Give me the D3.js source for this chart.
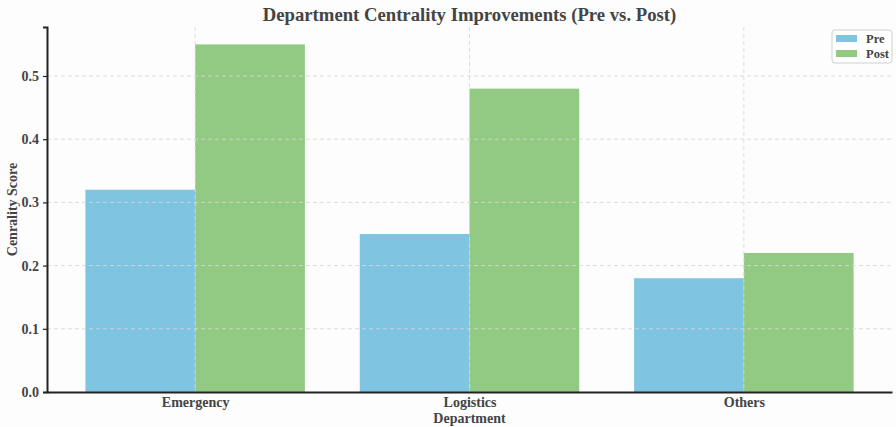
<!DOCTYPE html>
<html>
<head>
<meta charset="utf-8">
<script src="https://cdn.jsdelivr.net/npm/d3@7"></script>
<style>
  html, body { margin: 0; padding: 0; background: #fdfdfd; }
  svg { display: block; }
  text { font-family: "Liberation Serif", "Times New Roman", serif; font-weight: bold; fill: #444; }
</style>
</head>
<body>
<svg id="chart" width="896" height="427"></svg>
<script>
// Department centrality scores before and after the intervention
const departments = ["Emergency", "Logistics", "Others"];
const seriesNames = ["Pre", "Post"];
const preValues = [0.32, 0.25, 0.18];
const postValues = [0.55, 0.48, 0.22];
const yTicks = [0.0, 0.1, 0.2, 0.3, 0.4, 0.5];
const seriesColors = ["#7fc4e0", "#93ca83"];

const W = 896, H = 427;
const margin = { left: 47, right: 4, top: 27, bottom: 35 };
const svg = d3.select("#chart");

const plotW = W - margin.left - margin.right;
const plotH = H - margin.top - margin.bottom;

// Continuous x: categories at 0,1,2; bars span ±0.4 with 5% padding
const x = d3.scaleLinear().domain([-0.54, 2.54]).range([margin.left, margin.left + plotW]);
const y = d3.scaleLinear().domain([0, 0.5775]).range([margin.top + plotH, margin.top]);
const barW = 0.4;

const values = [preValues, postValues];

const g = svg.append("g");

// Bars
values.forEach((vals, si) => {
  g.selectAll(null)
    .data(vals)
    .enter().append("rect")
    .attr("x", (d, i) => x(i - barW + si * barW))
    .attr("width", x(barW) - x(0))
    .attr("y", d => y(d))
    .attr("height", d => y(0) - y(d))
    .attr("fill", seriesColors[si]);
});

// Grid lines (drawn above bars)
const grid = svg.append("g").attr("stroke", "#d8d8d8").attr("stroke-width", 1)
  .attr("stroke-dasharray", "4,3").attr("opacity", 0.85);
yTicks.slice(1).forEach(t => {
  grid.append("line").attr("x1", margin.left).attr("x2", margin.left + plotW)
    .attr("y1", y(t)).attr("y2", y(t));
});
departments.forEach((d, i) => {
  grid.append("line").attr("x1", x(i)).attr("x2", x(i))
    .attr("y1", margin.top).attr("y2", y(0));
});

// Y axis
const yAxis = d3.axisLeft(y).tickValues(yTicks).tickFormat(d3.format(".1f")).tickSize(4).tickPadding(4);
const yg = svg.append("g").attr("transform", `translate(${margin.left},0)`).call(yAxis);
yg.select(".domain").attr("stroke", "#222").attr("stroke-width", 2);
yg.selectAll(".tick line").attr("stroke", "#222").attr("stroke-width", 1.2);
yg.selectAll(".tick text").attr("font-size", 14).style("fill", "#444")
  .attr("font-family", "Liberation Serif, serif").attr("font-weight", "bold");

// X axis
const xAxis = d3.axisBottom(x).tickValues([0, 1, 2]).tickFormat(i => departments[i]).tickSize(0).tickPadding(5).tickSizeOuter(0);
const xg = svg.append("g").attr("transform", `translate(0,${y(0)})`).call(xAxis);
xg.select(".domain").attr("stroke", "#222").attr("stroke-width", 2);
xg.selectAll(".tick text").attr("font-size", 14).style("fill", "#444")
  .attr("font-family", "Liberation Serif, serif").attr("font-weight", "bold");

// Axis titles
svg.append("text").attr("x", x(1)).attr("y", 423).attr("text-anchor", "middle")
  .attr("font-size", 14).text("Department");
svg.append("text")
  .attr("transform", `translate(17,${(margin.top + y(0)) / 2}) rotate(-90)`)
  .attr("text-anchor", "middle").attr("font-size", 14).text("Cenrality Score");

// Title
svg.append("text").attr("x", (margin.left + margin.left + plotW) / 2).attr("y", 21)
  .attr("text-anchor", "middle").attr("font-size", 18.7).text("Department Centrality Improvements (Pre vs. Post)");

// Legend
const lg = svg.append("g").attr("transform", "translate(832,30)");
lg.append("rect").attr("width", 60).attr("height", 33).attr("rx", 3)
  .attr("fill", "#fff").attr("fill-opacity", 0.85).attr("stroke", "#d0d0d0");
seriesNames.forEach((name, i) => {
  lg.append("rect").attr("x", 4).attr("y", 5 + i * 15).attr("width", 21).attr("height", 7)
    .attr("fill", seriesColors[i]);
  lg.append("text").attr("x", 34).attr("y", 13 + i * 15).attr("font-size", 12.5).text(name);
});
</script>
</body>
</html>
